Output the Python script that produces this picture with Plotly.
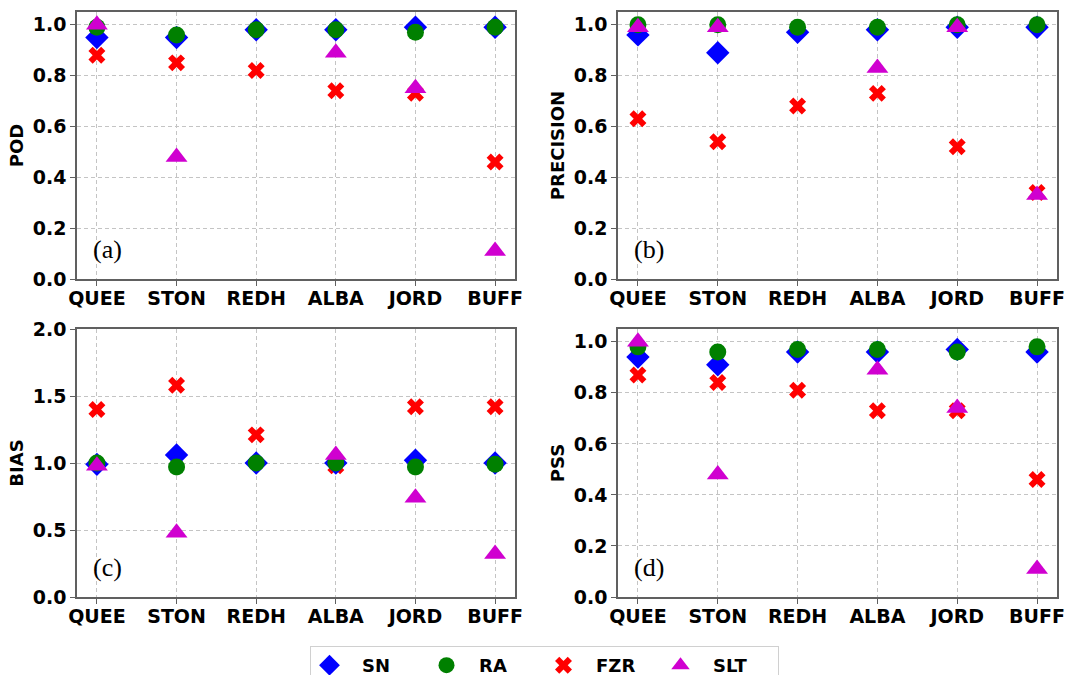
import plotly.graph_objects as go

stations = ["QUEE", "STON", "REDH", "ALBA", "JORD", "BUFF"]

pod_sn = [0.95, 0.95, 0.98, 0.98, 0.99, 0.99]
pod_ra = [0.99, 0.96, 0.98, 0.98, 0.97, 0.99]
pod_fzr = [0.88, 0.85, 0.82, 0.74, 0.73, 0.46]
pod_slt = [1.00, 0.48, None, 0.89, 0.75, 0.11]

prec_sn = [0.96, 0.89, 0.97, 0.98, 0.99, 0.99]
prec_ra = [1.00, 1.00, 0.99, 0.99, 1.00, 1.00]
prec_fzr = [0.63, 0.54, 0.68, 0.73, 0.52, 0.34]
prec_slt = [0.99, 0.99, None, 0.83, 0.99, 0.33]

bias_sn = [0.99, 1.06, 1.00, 1.00, 1.02, 1.00]
bias_ra = [1.00, 0.97, 1.00, 1.00, 0.97, 0.99]
bias_fzr = [1.40, 1.58, 1.21, 0.98, 1.42, 1.42]
bias_slt = [0.98, 0.48, None, 1.06, 0.74, 0.32]

pss_sn = [0.94, 0.91, 0.96, 0.96, 0.97, 0.96]
pss_ra = [0.98, 0.96, 0.97, 0.97, 0.96, 0.98]
pss_fzr = [0.87, 0.84, 0.81, 0.73, 0.73, 0.46]
pss_slt = [1.00, 0.48, None, 0.89, 0.74, 0.11]

series_names = ["SN", "RA", "FZR", "SLT"]
colors = ["#0000ff", "#008000", "#ff0000", "#d000d0"]
symbols = ["diamond", "circle", "x", "triangle-up"]
sizes = [18, 17, 15, 19]
draw_order = [2, 0, 1, 3]  # FZR drawn beneath SN/RA, SLT on top

panels = [
    ("POD", "(a)", [pod_sn, pod_ra, pod_fzr, pod_slt], [0, 1.05], 0.2),
    ("PRECISION", "(b)", [prec_sn, prec_ra, prec_fzr, prec_slt], [0, 1.05], 0.2),
    ("BIAS", "(c)", [bias_sn, bias_ra, bias_fzr, bias_slt], [0, 2.0], 0.5),
    ("PSS", "(d)", [pss_sn, pss_ra, pss_fzr, pss_slt], [0, 1.05], 0.2),
]

W, H = 1065, 675
# pixel boxes (left, right, top, bottom)
boxes = [(77, 515, 12, 279), (618, 1057, 12, 279), (77, 515, 329, 597), (618, 1057, 329, 597)]

fig = go.Figure()
layout = {}
annotations = []
tickfont = dict(family="DejaVu Sans", size=19, color="black", weight="bold")

for i, (title, label, data, yr, dt) in enumerate(panels):
    n = "" if i == 0 else str(i + 1)
    xa, ya = "x" + n, "y" + n
    for k in draw_order:
        fig.add_trace(go.Scatter(
            x=stations, y=data[k], mode="markers", name="  " + series_names[k],
            legendgroup=series_names[k], showlegend=(i == 0), legendrank=k + 1,
            marker=dict(symbol=symbols[k], size=sizes[k], color=colors[k], line=dict(width=0)),
            xaxis=xa, yaxis=ya, cliponaxis=False,
        ))
    l, r, t, b = boxes[i]
    common = dict(showline=True, mirror=True, linecolor="#606060", linewidth=1.5,
                  showgrid=True, gridcolor="#c4c4c4", griddash="4px,3px", gridwidth=1,
                  ticks="outside", ticklen=5, tickcolor="#606060", tickfont=tickfont,
                  zeroline=False)
    layout["xaxis" + n] = dict(domain=[l / W, r / W], anchor=ya, range=[-0.25, 5.25],
                               type="category", ticklabelstandoff=-4, **common)
    layout["yaxis" + n] = dict(domain=[1 - b / H, 1 - t / H], anchor=xa, range=yr,
                               dtick=dt, tick0=0, tickformat=".1f",
                               title=dict(text=title, standoff=4,
                                          font=dict(family="DejaVu Sans", size=18, color="black", weight="bold")),
                               **common)
    annotations.append(dict(text=label, xref=xa + " domain", yref=ya + " domain",
                            x=0.07, y=0.11, xanchor="center", yanchor="middle", showarrow=False,
                            font=dict(family="Liberation Serif", size=26, color="black")))

fig.update_layout(
    **layout,
    annotations=annotations,
    width=W, height=H,
    margin=dict(l=0, r=0, t=0, b=0, autoexpand=False),
    paper_bgcolor="white", plot_bgcolor="white",
    legend=dict(orientation="h", x=544 / W, xanchor="center",
                yref="container", y=1 - 646 / H, yanchor="top",
                bordercolor="#d0d0d0", borderwidth=1, bgcolor="white",
                font=dict(family="DejaVu Sans", size=18, color="black", weight="bold"),
                entrywidth=72, entrywidthmode="pixels"),
)

fig.write_html("out.html")
